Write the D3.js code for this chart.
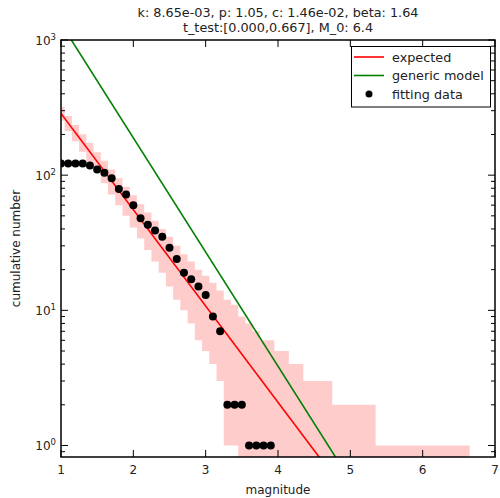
<!DOCTYPE html>
<html>
<head>
<meta charset="utf-8">
<script src="https://cdn.jsdelivr.net/npm/d3@7"></script>
<style>
  body { margin: 0; background: #fff; }
  text { font-family: "DejaVu Sans", sans-serif; fill: #222; }
</style>
</head>
<body>
<div id="container"></div>
<script>
// fitting data (cumulative number vs magnitude)
var dataMag = [1.0, 1.1, 1.2, 1.3, 1.4, 1.5, 1.6, 1.7, 1.8, 1.9, 2.0, 2.1, 2.2, 2.3, 2.4, 2.5, 2.6, 2.7, 2.8, 2.9,
               3.0, 3.1, 3.2, 3.3, 3.4, 3.5, 3.6, 3.7, 3.8, 3.9];
var dataN = [122, 122, 122, 122, 118, 110, 104, 95, 79, 72, 60, 48, 43, 39, 35, 29, 24, 19, 17, 15,
             13, 9, 7, 2, 2, 2, 1, 1, 1, 1];

// lines
var expectedMag = [1.0, 4.6];
var expectedN = [286, 0.78];
var genericMag = [1.0, 4.9];
var genericN = [1320, 0.67];

// confidence band (step, centred on each magnitude)
var bandMag = [1.0, 1.1, 1.2, 1.3, 1.4, 1.5, 1.6, 1.7, 1.8, 1.9, 2.0, 2.1, 2.2, 2.3, 2.4, 2.5, 2.6, 2.7, 2.8, 2.9,
               3.0, 3.1, 3.2, 3.3, 3.4, 3.5, 3.6, 3.7, 3.8, 3.9, 4.0, 4.1, 4.2, 4.3, 4.4, 4.5, 4.6, 4.7, 4.8, 4.9,
               5.0, 5.1, 5.2, 5.3, 5.4, 5.5, 5.6, 5.7, 5.8, 5.9, 6.0, 6.1, 6.2, 6.3, 6.4, 6.5, 6.6];
var bandHi = [319, 274, 235, 201, 173, 148, 128, 110, 95, 82, 71, 61, 53, 46, 40, 35, 30, 26, 23, 20,
              18, 16, 14, 12, 11, 9, 8, 7, 6, 6, 5, 5, 4, 4, 3, 3, 3, 3, 2, 2,
              2, 2, 2, 2, 1, 1, 1, 1, 1, 1, 1, 1, 1, 1, 1, 1, 1];
var bandLo = [253, 212, 178, 149, 125, 104, 87, 72, 60, 50, 41, 34, 28, 23, 19, 15, 12, 10, 8, 6,
              5, 4, 3, 1, 1, 0, 0, 0, 0, 0, 0, 0, 0, 0, 0, 0, 0, 0, 0, 0,
              0, 0, 0, 0, 0, 0, 0, 0, 0, 0, 0, 0, 0, 0, 0, 0, 0];

var xTicks = [1, 2, 3, 4, 5, 6, 7];
var yTicks = [1, 10, 100, 1000];
var titleLines = ["k: 8.65e-03, p: 1.05, c: 1.46e-02, beta: 1.64", "t_test:[0.000,0.667], M_0: 6.4"];
var legendItems = ["expected", "generic model", "fitting data"];

var W = 500, H = 498;
var mLeft = 61, mRight = 495, mTop = 40, mBottom = 457;

var svg = d3.select("#container").append("svg").attr("width", W).attr("height", H);

var x = d3.scaleLinear().domain([1, 7]).range([mLeft, mRight]);
var y = d3.scaleLog().domain([0.822, 1000]).range([mBottom, mTop]);

function yv(v) { return v > 0 ? y(v) : mBottom + 10; }

svg.append("clipPath").attr("id", "plotclip")
  .append("rect").attr("x", mLeft).attr("y", mTop).attr("width", mRight - mLeft).attr("height", mBottom - mTop);

var plot = svg.append("g").attr("clip-path", "url(#plotclip)");

// band
var bandPts = [];
bandMag.forEach(function (m, i) {
  bandPts.push({m: m - 0.05, lo: bandLo[i], hi: bandHi[i]});
  bandPts.push({m: m + 0.05, lo: bandLo[i], hi: bandHi[i]});
});
plot.append("path")
  .attr("d", d3.area().x(function (d) { return x(d.m); })
    .y0(function (d) { return yv(d.lo); })
    .y1(function (d) { return yv(d.hi); })(bandPts))
  .attr("fill", "#ff0000").attr("fill-opacity", 0.2);

var line = d3.line().x(function (d) { return x(d[0]); }).y(function (d) { return y(d[1]); });
plot.append("path").attr("d", line(d3.zip(expectedMag, expectedN)))
  .attr("fill", "none").attr("stroke", "#ff0000").attr("stroke-width", 1.6);
plot.append("path").attr("d", line(d3.zip(genericMag, genericN)))
  .attr("fill", "none").attr("stroke", "#008000").attr("stroke-width", 1.6);

plot.selectAll("circle.pt").data(d3.zip(dataMag, dataN)).enter().append("circle")
  .attr("class", "pt")
  .attr("cx", function (d) { return x(d[0]); })
  .attr("cy", function (d) { return y(d[1]); })
  .attr("r", 4).attr("fill", "#000");

// ticks (inward, all sides)
var minor = [];
[0.1, 1, 10, 100].forEach(function (dec) {
  for (var k = 2; k <= 9; k++) {
    var v = dec * k;
    if (v >= 0.822 && v <= 1000) minor.push(v);
  }
});
var tk = svg.append("g").attr("stroke", "#000").attr("stroke-width", 1);
xTicks.forEach(function (t) {
  tk.append("line").attr("x1", x(t)).attr("x2", x(t)).attr("y1", mBottom).attr("y2", mBottom - 7);
  tk.append("line").attr("x1", x(t)).attr("x2", x(t)).attr("y1", mTop).attr("y2", mTop + 7);
});
yTicks.forEach(function (t) {
  tk.append("line").attr("x1", mLeft).attr("x2", mLeft + 7).attr("y1", y(t)).attr("y2", y(t));
  tk.append("line").attr("x1", mRight).attr("x2", mRight - 7).attr("y1", y(t)).attr("y2", y(t));
});
minor.forEach(function (t) {
  tk.append("line").attr("x1", mLeft).attr("x2", mLeft + 4).attr("y1", y(t)).attr("y2", y(t));
  tk.append("line").attr("x1", mRight).attr("x2", mRight - 4).attr("y1", y(t)).attr("y2", y(t));
});

svg.append("rect").attr("x", mLeft).attr("y", mTop).attr("width", mRight - mLeft).attr("height", mBottom - mTop)
  .attr("fill", "none").attr("stroke", "#000").attr("stroke-width", 1.5);

// tick labels
xTicks.forEach(function (t) {
  svg.append("text").attr("x", x(t)).attr("y", mBottom + 17).attr("text-anchor", "middle")
    .attr("font-size", 12).text(t);
});
yTicks.forEach(function (t) {
  var lab = svg.append("text").attr("x", mLeft - 5).attr("y", y(t) + 5).attr("text-anchor", "end")
    .attr("font-size", 12);
  lab.append("tspan").text("10");
  lab.append("tspan").attr("font-size", 8.5).attr("dy", -5).text(Math.round(Math.log10(t)));
});

svg.append("text").attr("x", (mLeft + mRight) / 2).attr("y", mBottom + 37).attr("text-anchor", "middle")
  .attr("font-size", 12).text("magnitude");
svg.append("text").attr("transform", "translate(20," + ((mTop + mBottom) / 2) + ") rotate(-90)")
  .attr("text-anchor", "middle").attr("font-size", 12).text("cumulative number");

titleLines.forEach(function (s, i) {
  svg.append("text").attr("x", (mLeft + mRight) / 2).attr("y", 17 + i * 14.5).attr("text-anchor", "middle")
    .attr("font-size", 12.8).text(s);
});

// legend
var lg = svg.append("g");
lg.append("rect").attr("x", 351.5).attr("y", 46.5).attr("width", 139).attr("height", 60.5)
  .attr("fill", "#fff").attr("stroke", "#000").attr("stroke-width", 1);
var lgColors = ["#ff0000", "#008000", null];
legendItems.forEach(function (s, i) {
  var ly = 57 + i * 18.5;
  if (lgColors[i]) {
    lg.append("line").attr("x1", 354).attr("x2", 384).attr("y1", ly).attr("y2", ly)
      .attr("stroke", lgColors[i]).attr("stroke-width", 1.6);
  } else {
    lg.append("circle").attr("cx", 369).attr("cy", ly).attr("r", 3.5).attr("fill", "#000");
  }
  lg.append("text").attr("x", 392).attr("y", ly + 4.5).attr("font-size", 12.8).text(s);
});
</script>
</body>
</html>
